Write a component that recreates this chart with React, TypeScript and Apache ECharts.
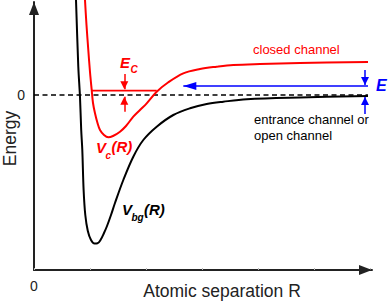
import React, { useEffect, useRef } from 'react';
import * as echarts from 'echarts';

// Background (entrance) channel potential V_bg(R)
const bgR = [0.743, 0.75, 0.791, 0.821, 0.843, 0.8625, 0.886, 0.916, 0.961, 1.018, 1.08, 1.134, 1.1875, 1.25, 1.304, 1.375, 1.446, 1.595, 1.773, 1.952, 2.191, 2.488, 2.786, 3.084, 3.38, 3.798, 4.75, 5.964];
const bgE = [105, 95, 28.3, -1.7, -35, -55, -95, -120, -136, -145, -148.5, -148.3, -145, -138, -131, -120, -108, -85, -61.7, -45, -31.7, -20, -13.3, -9, -6.7, -4.3, -2.5, -1];

// Closed channel potential V_c(R)
const cR = [0.9036, 0.9107, 0.9375, 0.9696, 1.0, 1.0304, 1.0536, 1.0893, 1.1339, 1.1786, 1.25, 1.3268, 1.4107, 1.5357, 1.6429, 1.7732, 1.8929, 2.0125, 2.1911, 2.3929, 2.6661, 2.9643, 3.2625, 3.5589, 4.0357, 4.75, 5.9643];
const cE = [105, 95, 70, 45, 23, 5, -8, -18.3, -28, -35, -40, -42.3, -41, -36.7, -31, -21.7, -15, -8.3, 3.3, 12.5, 21.7, 26, 28.3, 30, 31, 32, 33];

// Bound state level in the closed channel
const boundR = [1.0304, 2.1911];
const boundE = 4.3;

// Zero energy (dashed)
const zeroR = [0, 5.964];

// Collision energy arrow (blue)
const energyLevel = 9;
const energyR = [5.964, 2.666];
const blueMarkR = 5.911;
const blueDown = [25, 10];
const blueUp = [-19, -2];

// E_C arrows (red)
const redMarkR = 1.6125;
const redDown = [21, 5.7];
const redUp = [-16.7, -1.7];

const xTickLabels = ['0'];
const yTickLabels = ['0'];
const xAxisName = 'Atomic separation R';
const yAxisName = 'Energy';

const FONT = "'Liberation Sans', Arial, Helvetica, sans-serif";
const RED = '#ff0000';
const BLUE = '#0000ff';
const AXIS = '#222222';

function arrow(from: number[], to: number[], w: number, h: number) {
  return [
    { coord: from, symbol: 'none' },
    { coord: to, symbol: 'triangle', symbolSize: [w, h], symbolOffset: [0, h / 2] },
  ];
}

function buildOption() {
  const bgData = bgR.map((r, i) => [r, bgE[i]]);
  const cData = cR.map((r, i) => [r, cE[i]]);
  const markBase = {
    silent: true,
    animation: false,
    symbol: ['none', 'triangle'],
    label: { show: false },
    emphasis: { disabled: true },
  };
  const txt = (text: string, x: number, y: number, size: number, color: string, italicBold = false, align = 'left', rotation = 0) => ({
    type: 'text',
    x,
    y,
    rotation,
    silent: true,
    style: {
      text,
      fill: color,
      fontSize: size,
      fontFamily: FONT,
      fontWeight: italicBold ? 'bold' : 'normal',
      fontStyle: italicBold ? 'italic' : 'normal',
      align,
      verticalAlign: 'middle',
    },
  });
  return {
    animation: false,
    backgroundColor: '#ffffff',
    grid: { left: 34, right: 16, top: 2, bottom: 32, containLabel: false, outerBoundsMode: 'none' },
    xAxis: {
      type: 'value',
      min: 0,
      max: 338 / 56,
      interval: 1,
      axisLine: {
        show: true,
        onZero: false,
        symbol: ['none', 'triangle'],
        symbolSize: [10, 13],
        symbolOffset: [0, -6.5],
        lineStyle: { color: AXIS, width: 2 },
      },
      axisTick: { show: true, inside: true, length: 2, lineStyle: { color: '#bbbbbb', width: 1 } },
      axisLabel: {
        show: true,
        margin: 9,
        fontSize: 14,
        fontFamily: FONT,
        color: AXIS,
        showMaxLabel: false,
        formatter: (v: number) => (v === 0 ? xTickLabels[0] : ''),
      },
      splitLine: { show: false },
    },
    yAxis: {
      type: 'value',
      min: -175,
      max: 93,
      interval: 25,
      axisLine: {
        show: true,
        onZero: false,
        symbol: ['none', 'triangle'],
        symbolSize: [10, 13],
        symbolOffset: [0, -6.5],
        lineStyle: { color: AXIS, width: 2 },
      },
      axisTick: { show: false },
      axisLabel: {
        show: true,
        margin: 9,
        fontSize: 14,
        fontFamily: FONT,
        color: AXIS,
        showMaxLabel: false,
        formatter: (v: number) => (v === 0 ? yTickLabels[0] : ''),
      },
      splitLine: { show: false },
    },
    series: [
      {
        type: 'line',
        name: 'zero',
        data: zeroR.map((r) => [r, 0]),
        showSymbol: false,
        symbol: 'none',
        silent: true,
        lineStyle: { color: '#000000', width: 1.3, type: [5, 3.5] },
        z: 2,
      },
      {
        type: 'line',
        name: 'V_bg',
        data: bgData,
        smooth: 0.35,
        clip: false,
        showSymbol: false,
        symbol: 'none',
        silent: true,
        lineStyle: { color: '#000000', width: 2 },
        z: 3,
      },
      {
        type: 'line',
        name: 'V_c',
        data: cData,
        smooth: 0.35,
        clip: false,
        showSymbol: false,
        symbol: 'none',
        silent: true,
        lineStyle: { color: RED, width: 2 },
        z: 3,
      },
      {
        type: 'line',
        name: 'bound',
        data: boundR.map((r) => [r, boundE]),
        showSymbol: false,
        symbol: 'none',
        silent: true,
        lineStyle: { color: RED, width: 1.8 },
        z: 3,
        markLine: {
          ...markBase,
          lineStyle: { color: RED, width: 1.5, type: 'solid' },
          data: [
            arrow([redMarkR, redDown[0]], [redMarkR, redDown[1]], 8, 8),
            arrow([redMarkR, redUp[0]], [redMarkR, redUp[1]], 8, 8),
          ],
        },
      },
      {
        type: 'line',
        name: 'energy',
        data: energyR.map((r) => [r, energyLevel]),
        showSymbol: false,
        symbol: 'none',
        silent: true,
        lineStyle: { color: BLUE, width: 0 },
        z: 4,
        markLine: {
          ...markBase,
          lineStyle: { color: BLUE, width: 1.5, type: 'solid' },
          data: [
            arrow([energyR[0], energyLevel], [energyR[1], energyLevel], 8, 13),
            arrow([blueMarkR, blueDown[0]], [blueMarkR, blueDown[1]], 8, 8),
            arrow([blueMarkR, blueUp[0]], [blueMarkR, blueUp[1]], 8, 8),
          ],
        },
      },
    ],
    graphic: [
      txt(xAxisName, 222, 290.5, 17.5, AXIS, false, 'center'),
      txt(yAxisName, 9.5, 138.5, 17.5, AXIS, false, 'center', Math.PI / 2),
      txt('closed channel', 253, 49.5, 13, RED),
      txt('entrance channel or', 254, 119.7, 13, '#000000'),
      txt('open channel', 254, 135.5, 13, '#000000'),
      txt('E', 376, 85, 16, BLUE, true),
      txt('E', 120, 62.5, 15, RED, true),
      txt('C', 130.5, 69, 10, RED, true),
      txt('V', 96, 147.5, 15, RED, true),
      txt('c', 105.5, 155, 10, RED, true),
      txt('(R)', 111.5, 146.5, 15, RED, true),
      txt('V', 122, 209, 15, '#000000', true),
      txt('bg', 131.5, 217, 10, '#000000', true),
      txt('(R)', 144, 209.5, 15, '#000000', true),
    ],
  };
}

export default function App() {
  const ref = useRef<HTMLDivElement>(null);
  useEffect(() => {
    if (!ref.current) return;
    const chart = echarts.init(ref.current, null, { renderer: 'svg' });
    chart.setOption(buildOption() as any);
    return () => chart.dispose();
  }, []);
  return <div ref={ref} style={{ position: 'fixed', left: 0, top: 0, width: 388, height: 302 }} />;
}
